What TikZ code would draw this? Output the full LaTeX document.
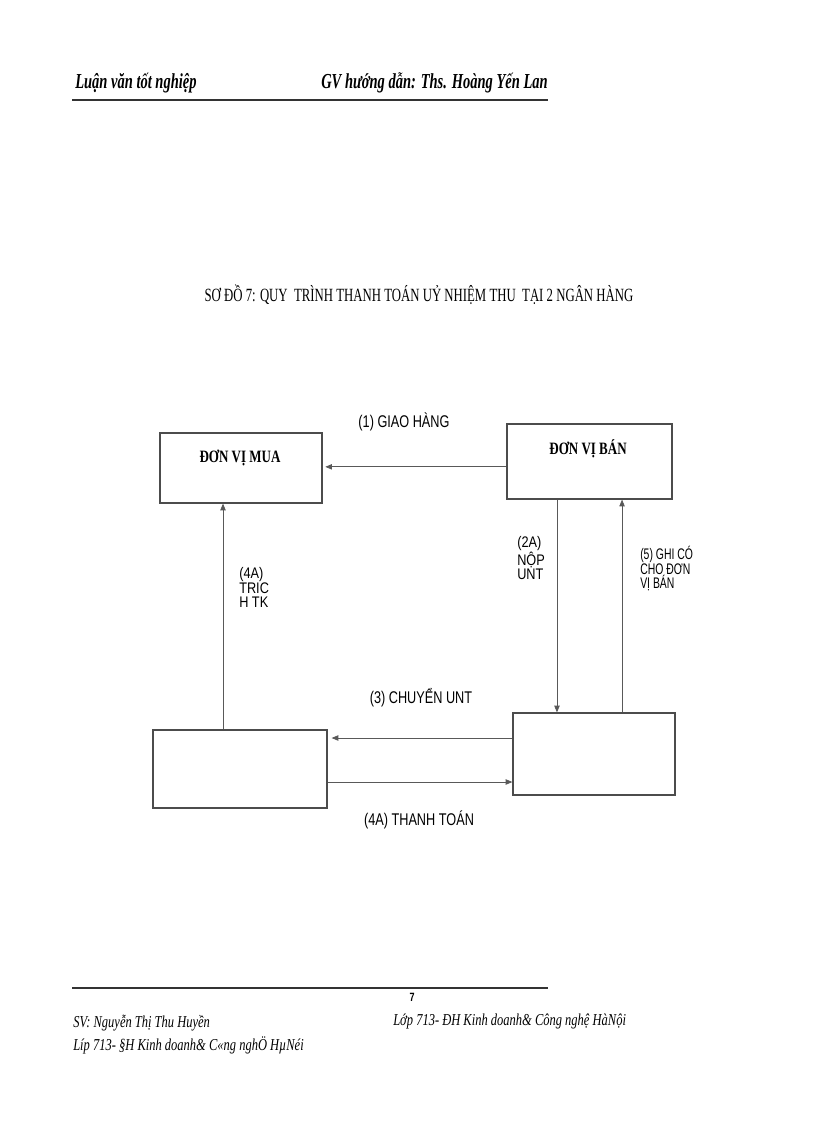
\documentclass[tikz,border=0pt]{standalone}
\usepackage{fontspec}
\setmainfont{Liberation Serif}
\newfontfamily\hdrfont[FakeStretch=0.68]{Liberation Serif}
\newfontfamily\titfont[FakeStretch=0.685]{Liberation Serif}
\newfontfamily\boxfont[FakeStretch=0.75]{Liberation Serif}
\newfontfamily\labfont[FakeStretch=0.75]{Liberation Sans}
\newfontfamily\docfont[FakeStretch=0.83]{Liberation Sans}
\newfontfamily\hepfont[FakeStretch=0.68]{Liberation Sans}
\newfontfamily\ftfont[FakeStretch=0.75]{Liberation Serif}
\usetikzlibrary{arrows.meta,positioning}

\begin{document}
\begin{tikzpicture}[x=0.75pt,y=-0.75pt,
    hop/.style={draw=black!70,line width=0.9pt,inner sep=0pt},
    tenhop/.style={font=\boxfont\bfseries\fontsize{13}{15}\selectfont,inner sep=0pt},
    nhan/.style={font=\labfont\fontsize{12.7}{14}\selectfont,inner sep=0pt},
    nhandoc/.style={font=\docfont\fontsize{11.5}{11}\selectfont,inner sep=0pt,align=left,anchor=north west},
    muiten/.style={draw=black!65,line width=0.6pt,-{Triangle[length=5pt,width=4pt]}}]

    \useasboundingbox (0,0) rectangle (816,1123);

    % đầu trang
    \node[anchor=base west,inner sep=0pt,font=\hdrfont\bfseries\itshape\fontsize{16}{18}\selectfont] (dau1) at (75,89) {Luận văn tốt nghiệp};
    \node[anchor=base east,inner sep=0pt,font=\hdrfont\bfseries\itshape\fontsize{16}{18}\selectfont] (dau2) at (548,89) {GV hướng dẫn: Ths. Hoàng Yến Lan};
    \draw[line width=1.2pt,black!80] (72,100) -- (548,100);

    % tên sơ đồ
    \node[inner sep=0pt,font=\titfont\fontsize{14}{16}\selectfont] (tensd) at (419,295) {SƠ ĐỒ 7: QUY \ TRÌNH THANH TOÁN UỶ NHIỆM THU \ TẠI 2 NGÂN HÀNG};

    % các hộp
    \node[hop,minimum width=121.5pt,minimum height=52.5pt] (mua) at (241,468) {};
    \node[hop,minimum width=123.75pt,minimum height=56.25pt] (ban) at (589.5,461.5) {};
    \node[hop,minimum width=130.5pt,minimum height=58.5pt] (nhmua) at (240,769) {};
    \node[hop,minimum width=121.5pt,minimum height=61.5pt] (nhban) at (594,754) {};
    \node[tenhop] (muatxt) at (240,458) {ĐƠN VỊ MUA};
    \node[tenhop] (bantxt) at (588,449) {ĐƠN VỊ BÁN};

    % các mũi tên
    \draw[muiten,shorten >=2pt] ([yshift=-4pt]ban.west) -- ([yshift=-4pt]ban.west -| mua.east);
    \draw[muiten] ([xshift=-12.75pt]nhmua.north) -- ([xshift=-12.75pt]nhmua.north |- mua.south);
    \draw[muiten] ([xshift=-24.4pt]ban.south) -- ([xshift=-24.4pt]ban.south |- nhban.north);
    \draw[muiten] ([xshift=24.4pt]ban.south |- nhban.north) -- ([xshift=24.4pt]ban.south);
    \draw[muiten,shorten >=3pt] ([yshift=12pt]nhban.west) -- ([yshift=12pt]nhban.west -| nhmua.east);
    \draw[muiten] ([yshift=-21pt]nhban.west -| nhmua.east) -- ([yshift=-21pt]nhban.west);

    % nhãn
    \node[nhan] (n1) at (404,422) {(1) GIAO HÀNG};
    \node[nhandoc] (n4a) at (239,567) {(4A)\\TRIC\\H TK};
    \node[nhandoc] (n2a) at (517,536) {(2A)\\NỘP\\UNT};
    \node[nhandoc,font=\hepfont\fontsize{11.5}{11}\selectfont] (n5) at (640,546) {(5) GHI CÓ\\CHO ĐƠN\\VỊ BÁN};
    \node[nhan] (n3) at (421,698) {(3) CHUYỂN UNT};
    \node[nhan] (n4b) at (419,820) {(4A) THANH TOÁN};

    % chân trang
    \draw[line width=0.8pt,black!80] (72,988) -- (548,988);
    \node[inner sep=0pt,font=\labfont\bfseries\fontsize{9}{10}\selectfont] (trang) at (412,997) {7};
    \node[anchor=base west,inner sep=0pt,font=\ftfont\itshape\fontsize{12.5}{14}\selectfont] (sv) at (73,1027) {SV: Nguyễn Thị Thu Huyền};
    \node[anchor=base west,inner sep=0pt,font=\ftfont\itshape\fontsize{12.5}{14}\selectfont] (lop1) at (393,1025) {Lớp 713- ĐH Kinh doanh\& Công nghệ HàNội};
    \node[anchor=base west,inner sep=0pt,font=\ftfont\itshape\fontsize{12.5}{14}\selectfont] (lop2) at (73,1050) {Líp 713- §H Kinh doanh\& C«ng nghÖ HµNéi};
\end{tikzpicture}
\end{document}
